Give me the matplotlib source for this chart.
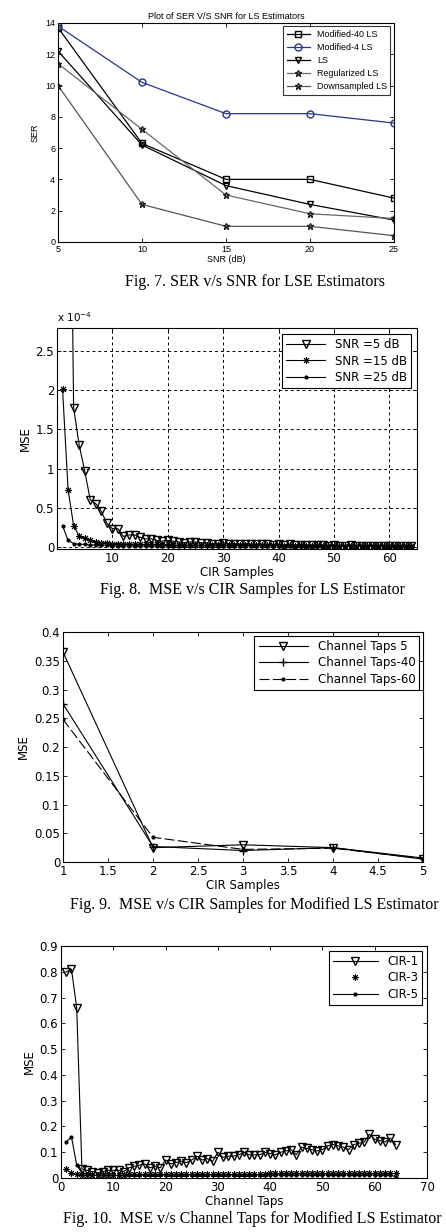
import numpy as np
import matplotlib
matplotlib.use("Agg")
import matplotlib.pyplot as plt
from matplotlib.ticker import FuncFormatter

# ---- Fig. 7 data
snr = [5, 10, 15, 20, 25]
ser_mod40 = [13.7, 6.3, 4.0, 4.0, 2.8]
ser_mod4 = [13.8, 10.2, 8.2, 8.2, 7.6]
ser_ls = [12.2, 6.2, 3.6, 2.4, 1.4]
ser_reg = [11.4, 7.2, 3.0, 1.8, 1.5]
ser_down = [10.0, 2.4, 1.0, 1.0, 0.4]

# ---- Fig. 8 data (values x 1e-4)
cir = np.arange(1, 65)
mse_snr5 = [14, 8, 1.78, 1.3, 0.97, 0.6, 0.55, 0.45, 0.3, 0.23,
            0.23, 0.13, 0.15, 0.15, 0.12, 0.1, 0.1, 0.08, 0.07, 0.08,
            0.07, 0.06, 0.05, 0.06, 0.06, 0.05, 0.05, 0.04, 0.04, 0.05,
            0.04, 0.04, 0.03, 0.04, 0.03, 0.03, 0.03, 0.03, 0.02, 0.03,
            0.02, 0.03, 0.02, 0.02, 0.02, 0.02, 0.02, 0.02, 0.01, 0.02,
            0.01, 0.01, 0.02, 0.01, 0.01, 0.01, 0.01, 0.01, 0.01, 0.01,
            0.01, 0.01, 0.01, 0.01]
mse_snr15 = [2.02, 0.73, 0.27, 0.13, 0.11, 0.08, 0.06, 0.05, 0.05, 0.04,
             0.04, 0.03, 0.04, 0.03, 0.03, 0.03, 0.03, 0.03, 0.02, 0.03,
             0.02, 0.02, 0.02, 0.02, 0.02, 0.02, 0.02, 0.02, 0.02, 0.02,
             0.02, 0.02, 0.02, 0.02, 0.02, 0.02, 0.02, 0.02, 0.02, 0.02,
             0.01, 0.02, 0.01, 0.02, 0.01, 0.01, 0.02, 0.01, 0.01, 0.01,
             0.01, 0.01, 0.01, 0.01, 0.01, 0.01, 0.01, 0.01, 0.01, 0.01,
             0.01, 0.01, 0.01, 0.01]
mse_snr25 = [0.27, 0.08, 0.04, 0.03, 0.03, 0.02, 0.02, 0.02, 0.02, 0.01,
             0.01, 0.01, 0.01, 0.01, 0.01, 0.01, 0.01, 0.01, 0.01, 0.01,
             0.01, 0.01, 0.01, 0.01, 0.01, 0.01, 0.01, 0.01, 0.01, 0.01,
             0.01, 0.01, 0.01, 0.01, 0.01, 0.01, 0.01, 0.01, 0.01, 0.01,
             0.01, 0.01, 0.01, 0.01, 0.01, 0.01, 0.01, 0.01, 0.01, 0.01,
             0.01, 0.01, 0.01, 0.01, 0.01, 0.01, 0.01, 0.01, 0.01, 0.01,
             0.01, 0.01, 0.01, 0.01]

# ---- Fig. 9 data
samples = [1, 2, 3, 4, 5]
taps5 = [0.365, 0.025, 0.03, 0.025, 0.005]
taps40 = [0.275, 0.027, 0.02, 0.025, 0.007]
taps60 = [0.248, 0.043, 0.022, 0.024, 0.006]

# ---- Fig. 10 data
taps = np.arange(1, 65)
cir1 = [0.80, 0.81, 0.66, 0.035, 0.03, 0.025, 0.02, 0.025, 0.03, 0.03,
        0.03, 0.025, 0.04, 0.045, 0.05, 0.055, 0.04, 0.045, 0.04, 0.07,
        0.055, 0.06, 0.065, 0.06, 0.07, 0.085, 0.07, 0.075, 0.065, 0.10,
        0.08, 0.085, 0.085, 0.09, 0.10, 0.09, 0.09, 0.09, 0.10, 0.095,
        0.09, 0.10, 0.105, 0.11, 0.09, 0.12, 0.115, 0.11, 0.105, 0.11,
        0.125, 0.13, 0.125, 0.12, 0.11, 0.13, 0.135, 0.14, 0.17, 0.15,
        0.145, 0.14, 0.155, 0.13]
cir3 = [0.035, 0.02, 0.015, 0.013, 0.013, 0.012, 0.012, 0.013, 0.013, 0.013,
        0.013, 0.013, 0.014, 0.014, 0.014, 0.014, 0.014, 0.014, 0.015, 0.015,
        0.015, 0.015, 0.015, 0.015, 0.015, 0.016, 0.016, 0.016, 0.016, 0.016,
        0.016, 0.016, 0.017, 0.017, 0.017, 0.017, 0.017, 0.017, 0.017, 0.018,
        0.018, 0.018, 0.018, 0.018, 0.018, 0.018, 0.019, 0.019, 0.019, 0.019,
        0.019, 0.019, 0.02, 0.02, 0.02, 0.02, 0.02, 0.02, 0.021, 0.021,
        0.021, 0.02, 0.02, 0.02]
cir5 = [0.14, 0.16, 0.05, 0.02, 0.015, 0.012, 0.01, 0.01, 0.01, 0.01,
        0.01, 0.01, 0.011, 0.011, 0.011, 0.011, 0.011, 0.011, 0.011, 0.012,
        0.012, 0.012, 0.012, 0.012, 0.012, 0.012, 0.012, 0.012, 0.012, 0.012,
        0.012, 0.012, 0.012, 0.012, 0.012, 0.012, 0.012, 0.012, 0.012, 0.012,
        0.012, 0.012, 0.012, 0.012, 0.012, 0.012, 0.012, 0.012, 0.012, 0.012,
        0.012, 0.012, 0.012, 0.012, 0.012, 0.012, 0.012, 0.012, 0.012, 0.012,
        0.012, 0.012, 0.012, 0.005]

ast = (8, 2, 0)  # matlab style asterisk
fmt_g = FuncFormatter(lambda v, p: '%g' % round(v, 6))
cap_font = dict(family='Liberation Serif', fontsize=11.5)
mfont = 'DejaVu Sans'

fig = plt.figure(figsize=(4.46, 12.32), dpi=100)


def matlab_box(ax, fs):
    ax.tick_params(direction='in', top=True, right=True, labelsize=fs,
                   length=3, width=0.6, pad=2)
    for s in ax.spines.values():
        s.set_linewidth(0.8)


# Fig. 7
plt.rcParams['font.family'] = ['Liberation Sans', 'DejaVu Sans']
ax1 = fig.add_axes([0.130, 0.8036, 0.7534, 0.1778])
ax1.plot(snr, ser_mod40, '-s', color='k', mfc='none', ms=5, lw=0.9, label='Modified-40 LS')
ax1.plot(snr, ser_mod4, '-o', color='#27358c', mfc='none', ms=5, lw=0.9, label='Modified-4 LS')
ax1.plot(snr, ser_ls, '-v', color='k', mfc='none', ms=5, lw=0.9, label='LS')
ax1.plot(snr, ser_reg, '-*', color='#666666', mec='#222222', mfc='none', ms=5, lw=0.9, label='Regularized LS')
ax1.plot(snr, ser_down, '-*', color='#555555', mec='#222222', mfc='none', ms=5, lw=0.9, label='Downsampled LS')
ax1.set_xlim(5, 25)
ax1.set_ylim(0, 14)
ax1.set_xticks([5, 10, 15, 20, 25])
ax1.set_yticks(range(0, 15, 2))
matlab_box(ax1, 6.5)
ax1.set_title('Plot of SER V/S SNR for LS Estimators', fontsize=6.5, pad=3)
ax1.set_xlabel('SNR (dB)', fontsize=6.5, labelpad=1)
ax1.set_ylabel('SER', fontsize=6.5, labelpad=4)
leg = ax1.legend(loc='upper right', fontsize=6.4, frameon=True, fancybox=False,
                 edgecolor='k', borderpad=0.4, labelspacing=0.45, handlelength=2.6,
                 borderaxespad=0.4)
leg.get_frame().set_linewidth(0.8)
fig.text(0.28, 1 - 282 / 1232, 'Fig. 7. SER v/s SNR for LSE Estimators', va='center', ha='left', **cap_font)

# Fig. 8
ax2 = fig.add_axes([0.1278, 0.5544, 0.8072, 0.1794])
ax2.plot(cir, np.array(mse_snr5) * 1e-4, linestyle='-', marker='v', color='k', mfc='none', ms=5.5, lw=0.8, label='SNR =5 dB')
ax2.plot(cir, np.array(mse_snr15) * 1e-4, linestyle='-', marker=ast, color='k', ms=5, mew=0.7, lw=0.8, label='SNR =15 dB')
ax2.plot(cir, np.array(mse_snr25) * 1e-4, linestyle='-', marker='.', color='k', ms=4, lw=0.8, label='SNR =25 dB')
ax2.set_xlim(0, 65)
ax2.set_ylim(-0.03e-4, 2.8e-4)
ax2.set_xticks(range(10, 61, 10))
ax2.set_yticks(np.arange(0, 2.6, 0.5) * 1e-4)
ax2.yaxis.set_major_formatter(FuncFormatter(lambda v, p: '%g' % round(v * 1e4, 4)))
ax2.grid(True, color='k', linestyle=(0, (3, 3)), linewidth=0.7)
matlab_box(ax2, 8.5)
ax2.set_xlabel('CIR Samples', fontsize=8.5, labelpad=1, family=mfont)
ax2.set_ylabel('MSE', fontsize=8.5, labelpad=3, family=mfont)
ax2.text(0.0, 1.02, r'x 10$^{-4}$', transform=ax2.transAxes, fontsize=7.5, family=mfont, va='bottom')
leg = ax2.legend(loc='upper right', fancybox=False, edgecolor='k', framealpha=1,
                 borderpad=0.35, labelspacing=0.3, handlelength=3.3, borderaxespad=0.5,
                 prop={'family': mfont, 'size': 8.5})
leg.get_frame().set_linewidth(0.8)
fig.text(0.224, 1 - 590 / 1232, 'Fig. 8.  MSE v/s CIR Samples for LS Estimator', va='center', ha='left', **cap_font)
for lab in ax2.get_xticklabels() + ax2.get_yticklabels():
    lab.set_family(mfont)

# Fig. 9
ax3 = fig.add_axes([0.1413, 0.3003, 0.8072, 0.1867])
ax3.plot(samples, taps5, linestyle='-', marker='v', color='k', mfc='none', ms=6, lw=0.8, label='Channel Taps 5')
ax3.plot(samples, taps40, linestyle='-', marker='+', color='k', ms=6, lw=0.8, label='Channel Taps-40')
ax3.plot(samples, taps60, linestyle=(0, (9, 3)), marker='.', color='k', ms=4, lw=0.8, label='Channel Taps-60')
ax3.set_xlim(1, 5)
ax3.set_ylim(0, 0.4)
ax3.set_xticks(np.arange(1, 5.01, 0.5))
ax3.set_yticks(np.arange(0, 0.401, 0.05))
ax3.xaxis.set_major_formatter(fmt_g)
ax3.yaxis.set_major_formatter(fmt_g)
matlab_box(ax3, 8.5)
ax3.set_xlabel('CIR Samples', fontsize=8.5, labelpad=1, family=mfont)
ax3.set_ylabel('MSE', fontsize=8.5, labelpad=3, family=mfont)
leg = ax3.legend(loc='upper right', fancybox=False, edgecolor='k', framealpha=1,
                 borderpad=0.35, labelspacing=0.3, handlelength=4.2, borderaxespad=0.3,
                 prop={'family': mfont, 'size': 8.5})
leg.get_frame().set_linewidth(0.8)
fig.text(0.157, 1 - 905 / 1232, 'Fig. 9.  MSE v/s CIR Samples for Modified LS Estimator', va='center', ha='left', **cap_font)
for lab in ax3.get_xticklabels() + ax3.get_yticklabels():
    lab.set_family(mfont)

# Fig. 10
ax4 = fig.add_axes([0.1368, 0.0438, 0.8206, 0.1883])
ax4.plot(taps, cir1, linestyle='-', marker='v', color='k', mfc='none', ms=6, lw=0.8, label='CIR-1')
ax4.plot(taps, cir3, linestyle='none', marker=ast, color='k', ms=4.5, mew=0.7, label='CIR-3')
ax4.plot(taps, cir5, linestyle='-', marker='.', color='k', ms=4, lw=0.8, label='CIR-5')
ax4.set_xlim(0, 70)
ax4.set_ylim(0, 0.9)
ax4.set_xticks(range(0, 71, 10))
ax4.set_yticks(np.arange(0, 0.901, 0.1))
ax4.yaxis.set_major_formatter(fmt_g)
matlab_box(ax4, 8.5)
ax4.set_xlabel('Channel Taps', fontsize=8.5, labelpad=1, family=mfont)
ax4.set_ylabel('MSE', fontsize=8.5, labelpad=3, family=mfont)
leg = ax4.legend(loc='upper right', fancybox=False, edgecolor='k', framealpha=1,
                 borderpad=0.35, labelspacing=0.3, handlelength=3.8, borderaxespad=0.4,
                 prop={'family': mfont, 'size': 8.5})
leg.get_frame().set_linewidth(0.8)
fig.text(0.141, 1 - 1219 / 1232, 'Fig. 10.  MSE v/s Channel Taps for Modified LS Estimator', va='center', ha='left', **cap_font)
for lab in ax4.get_xticklabels() + ax4.get_yticklabels():
    lab.set_family(mfont)

fig.savefig('out.png', dpi=100)
